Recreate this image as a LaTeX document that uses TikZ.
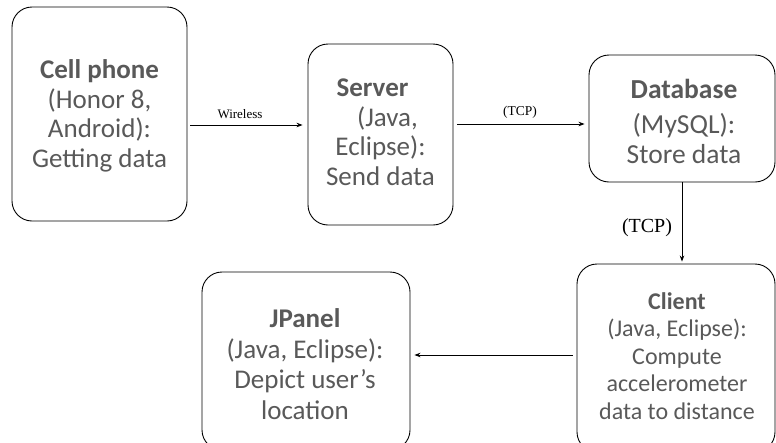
\documentclass[tikz,border=0pt]{standalone}
\usepackage{fontspec}
\setmainfont{Carlito}
\newfontfamily\lbl{Liberation Serif}
\usetikzlibrary{arrows.meta,calc}
\definecolor{txt}{HTML}{595959}
\tikzset{
  box/.style={draw=black, line width=0.9pt, rounded corners=20pt, text=txt, align=center, inner sep=0pt},
  arr/.style={draw=black, line width=0.8pt, -{Stealth[length=6pt,width=4.5pt]}},
  lab/.style={font=\lbl, text=black, inner sep=0pt}
}
\begin{document}
\begin{tikzpicture}[x=1pt,y=-1pt]
\useasboundingbox (0,0) rectangle (776,442);
\clip (0,0) rectangle (776,442);
% boxes
\node[box, minimum width=175pt, minimum height=214pt] (cell) at (99.5,114) {};
\node[box, minimum width=145pt, minimum height=181pt] (server) at (380.5,134.5) {};
\node[box, minimum width=186pt, minimum height=127pt] (db) at (682,118.5) {};
\node[box, minimum width=198pt, minimum height=188pt] (client) at (676,358) {};
\node[box, minimum width=208pt, minimum height=178pt] (jpanel) at (306,361) {};
% texts
\node[text=txt, align=center, font=\fontsize{27}{29.5}\selectfont] (tcell) at (99.5,116)
  {\textbf{Cell phone}\\(Honor 8,\\Android):\\Getting data};
\node[text=txt, align=center, font=\fontsize{27}{29.5}\selectfont] (tserver) at (380.5,132)
  {\hspace*{-16pt}\textbf{Server}\\\hspace*{14pt}(Java,\\Eclipse):\\Send data};
\node[text=txt, align=center, font=\fontsize{27.5}{30}\selectfont] (tdb) at (684,121)
  {\textbf{Database}\\[5pt](MySQL):\\Store data};
\node[text=txt, align=center, font=\fontsize{24}{27.5}\selectfont] (tclient) at (677,356)
  {\textbf{Client}\\(Java, Eclipse):\\Compute\\accelerometer\\data to distance};
\node[text=txt, align=center, font=\fontsize{27}{30.5}\selectfont] (tjpanel) at (305,364)
  {\textbf{JPanel}\\(Java, Eclipse):\\Depict user’s\\location};
% connectors
\draw[arr] ($(cell.east)+(3,11)$) -- ($(server.west)+(-5,-9.5)$);
\node[lab, font=\lbl\fontsize{13}{15}\selectfont] (lwire) at (240,114) {Wireless};
\draw[arr] ($(server.east)+(4,-10.5)$) -- ($(db.west)+(-4,5.5)$);
\node[lab, font=\lbl\fontsize{13.5}{15}\selectfont] (ltcp1) at (520,112) {(TCP)};
\draw[arr] (db.south) -- ($(db.south |- client.north)+(0,-2)$);
\node[lab, font=\lbl\fontsize{20}{22}\selectfont] (ltcp2) at (647,228) {(TCP)};
\draw[arr] ($(client.west)+(-4,-3)$) -- ($(jpanel.east |- client.west)+(4,-3)$);
\end{tikzpicture}
\end{document}
